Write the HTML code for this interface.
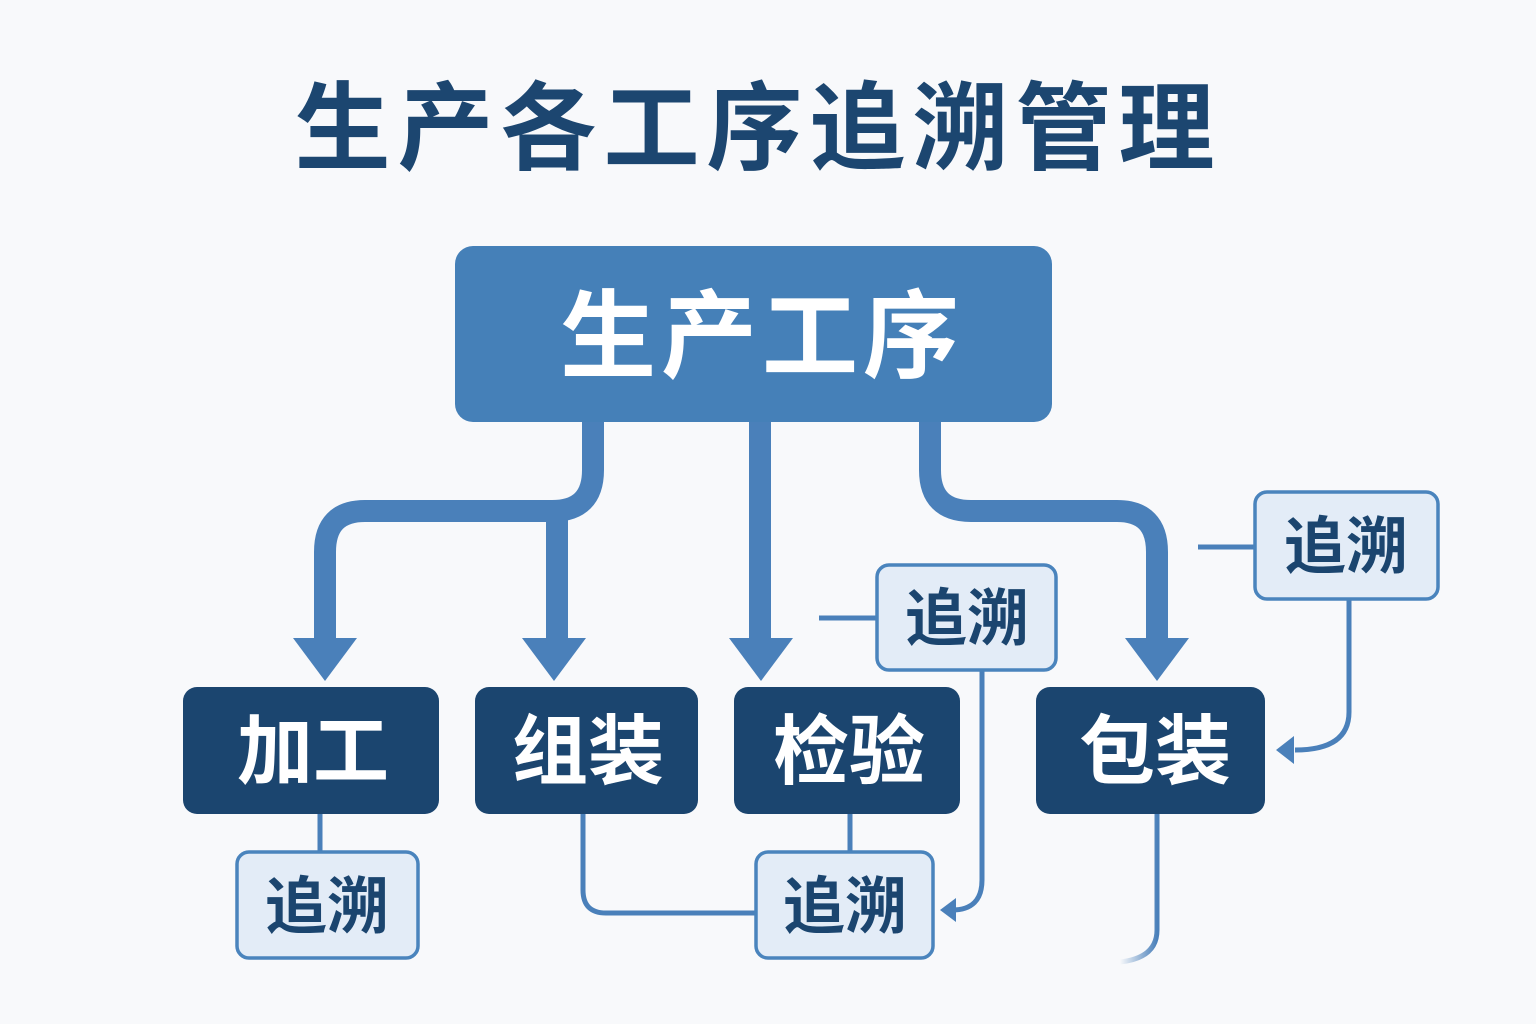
<!DOCTYPE html>
<html><head><meta charset="utf-8"><style>
html,body{margin:0;padding:0;background:#f8f9fb;}
svg{display:block;}
text{font-family:"Liberation Sans","Noto Sans CJK SC",sans-serif;font-weight:bold;}
</style></head><body>
<svg width="1536" height="1024" viewBox="0 0 1536 1024" xmlns="http://www.w3.org/2000/svg">
<defs>
<linearGradient id="fade" x1="0" y1="0" x2="1" y2="0"><stop offset="0" stop-color="#4a80ba" stop-opacity="0"/><stop offset="1" stop-color="#4a80ba"/></linearGradient>
</defs>
<rect width="1536" height="1024" fill="#f8f9fb"/>
<text x="758" y="162" font-size="96" fill="#1c4670" text-anchor="middle" letter-spacing="7">生产各工序追溯管理</text>

<g fill="none" stroke="#4a80ba" stroke-width="22">
<path d="M593 422 V470 Q593 511 552 511 H365 Q325 511 325 552 V645"/>
<path d="M557 511 V645"/>
<path d="M760 422 V645"/>
<path d="M930 422 V470 Q930 511 971 511 H1117 Q1157 511 1157 552 V645"/>
</g>
<g fill="#4a80ba">
<polygon points="293,638 357,638 325,681"/>
<polygon points="522,638 586,638 554,681"/>
<polygon points="729,638 793,638 761,681"/>
<polygon points="1125,638 1189,638 1157,681"/>
</g>

<rect x="455" y="246" width="597" height="176" rx="18" fill="#4580b8"/>
<text x="762" y="370" font-size="96" fill="#fff" text-anchor="middle" letter-spacing="5">生产工序</text>

<g fill="none" stroke="#4a80ba" stroke-width="5">
<path d="M320 814 V852"/>
<path d="M583 814 V890 Q583 913 606 913 H756"/>
<path d="M850 814 V852"/>
<path d="M819 618 H877"/>
<path d="M982 670 V880 Q982 910 952 910"/>
<path d="M1198 547 H1255"/>
<path d="M1349 599 V712 Q1349 750 1295 750"/>
</g>
<path d="M1157 814 V930 Q1157 958 1120 962" fill="none" stroke="url(#fade)" stroke-width="5"/>
<polygon points="940,910 956,898 956,922" fill="#4a80ba"/>
<polygon points="1276,750 1294,736 1294,764" fill="#4a80ba"/>

<g fill="#1b456f">
<rect x="183" y="687" width="256" height="127" rx="14"/>
<rect x="475" y="687" width="223" height="127" rx="14"/>
<rect x="734" y="687" width="226" height="127" rx="14"/>
<rect x="1036" y="687" width="229" height="127" rx="14"/>
</g>
<g font-size="76" fill="#fff" text-anchor="middle">
<text x="313" y="778">加工</text>
<text x="588" y="778">组装</text>
<text x="849" y="778">检验</text>
<text x="1155" y="778">包装</text>
</g>

<g fill="#e3ecf7" stroke="#4a84bd" stroke-width="3.5">
<rect x="237" y="852" width="181" height="106" rx="12"/>
<rect x="756" y="852" width="177" height="106" rx="12"/>
<rect x="877" y="565" width="179" height="105" rx="12"/>
<rect x="1255" y="492" width="183" height="107" rx="12"/>
</g>
<g font-size="62" fill="#1b456f" text-anchor="middle">
<text x="327" y="928">追溯</text>
<text x="845" y="928">追溯</text>
<text x="967" y="640">追溯</text>
<text x="1346" y="568">追溯</text>
</g>
</svg>
</body></html>
